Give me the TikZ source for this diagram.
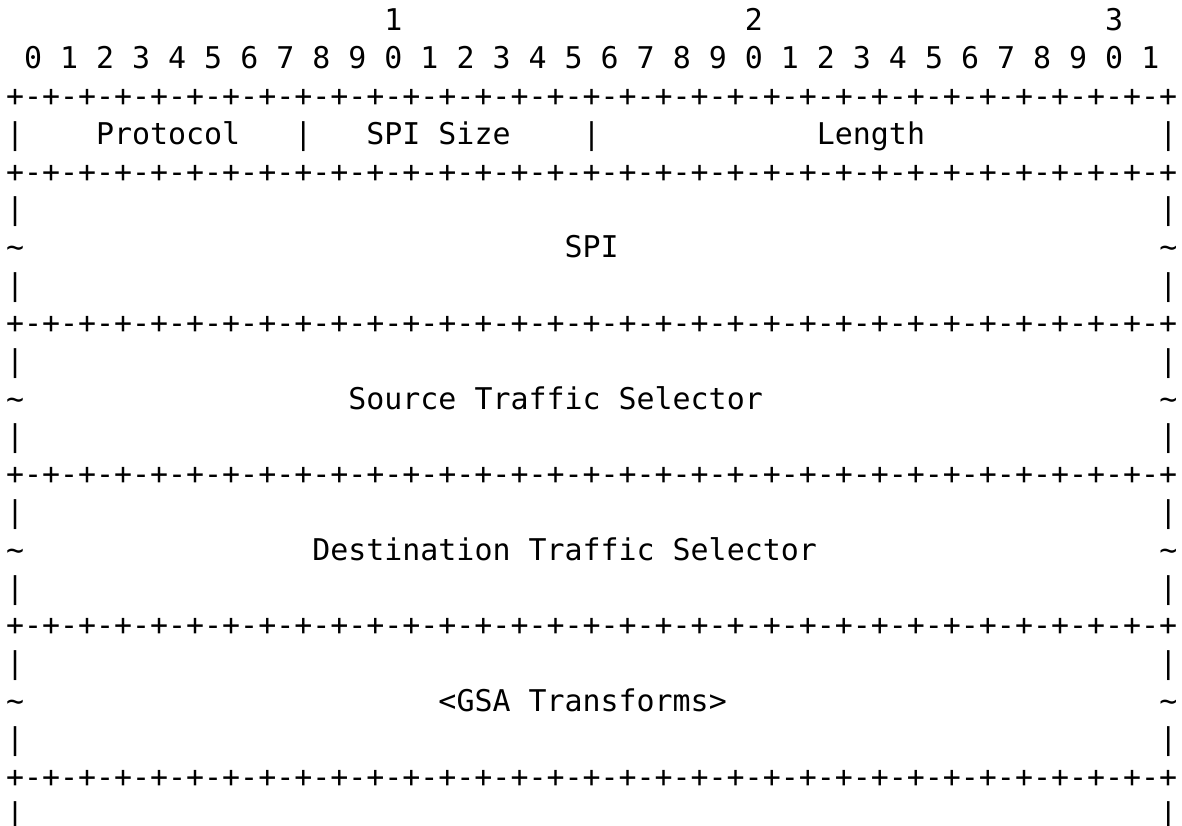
\documentclass[tikz,border=0pt]{standalone}
\usepackage{fontspec}
\newfontfamily\bitfont{DejaVu Sans Mono}
\tikzstyle{cell} = [anchor=base west, inner sep=0pt, outer sep=0pt, font=\bitfont\fontsize{29.93}{36}\selectfont]
\tikzstyle{sepline} = [cell]
\newcommand{\colx}[1]{6+(#1)*18.02}
\newcommand{\rowy}[1]{31+(#1)*37.8}
\newcommand{\plusminus}{+-+-+-+-+-+-+-+-+-+-+-+-+-+-+-+-+-+-+-+-+-+-+-+-+-+-+-+-+-+-+-+-+}

\begin{document}
\begin{tikzpicture}[x=1pt, y=-1pt]
            \useasboundingbox (0,0) rectangle (1182,826);

            % bit numbers
            \foreach \t/\c in {1/21, 2/41, 3/61}
                \node [cell] (tens\t) at ({\colx{\c}},{\rowy{0}}) {\t};
            \foreach \b in {0,...,31} {
                \pgfmathtruncatemacro{\d}{mod(\b,10)}
                \node [cell] (bit\b) at ({\colx{2*\b+1}},{\rowy{1}}) {\d};
            }

            % separator lines
            \foreach \k in {2,4,8,12,16,20}
                \node [sepline] (sep\k) at ({\colx{0}},{\rowy{\k}}) {\plusminus};

            % side bars and tildes
            \foreach \k in {3,5,...,21} {
                \node [cell] (left\k) at ({\colx{0}},{\rowy{\k}}) {|};
                \node [cell] (right\k) at ({\colx{64}},{\rowy{\k}}) {|};
            }
            \foreach \k in {6,10,14,18} {
                \node [cell] (lefttilde\k) at ({\colx{0}},{\rowy{\k}}) {\char`\~};
                \node [cell] (righttilde\k) at ({\colx{64}},{\rowy{\k}}) {\char`\~};
            }
            \node [cell] (bar16) at ({\colx{16}},{\rowy{3}}) {|};
            \node [cell] (bar32) at ({\colx{32}},{\rowy{3}}) {|};

            % fields
            \node [cell] (protocol) at ({\colx{5}},{\rowy{3}}) {Protocol};
            \node [cell] (spisize) at ({\colx{20}},{\rowy{3}}) {SPI Size};
            \node [cell] (length) at ({\colx{45}},{\rowy{3}}) {Length};
            \node [cell] (spi) at ({\colx{31}},{\rowy{6}}) {SPI};
            \node [cell] (srcts) at ({\colx{19}},{\rowy{10}}) {Source Traffic Selector};
            \node [cell] (dstts) at ({\colx{17}},{\rowy{14}}) {Destination Traffic Selector};
            \node [cell] (gsa) at ({\colx{24}},{\rowy{18}}) {<GSA Transforms>};
\end{tikzpicture}
\end{document}
